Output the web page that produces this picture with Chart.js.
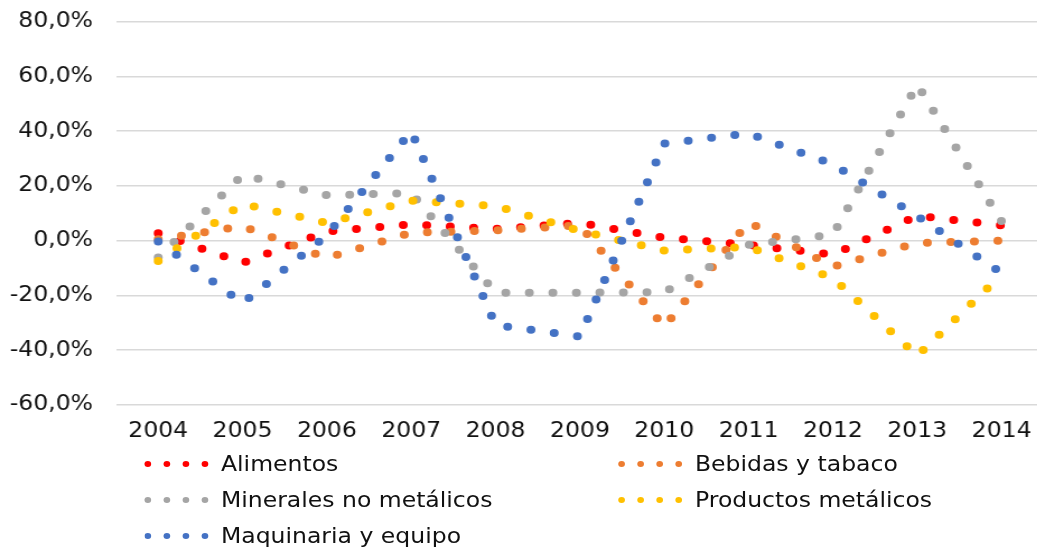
<!DOCTYPE html>
<html><head><meta charset="utf-8">
<script src="https://cdn.jsdelivr.net/npm/chart.js@4.4.1/dist/chart.umd.min.js"></script>
<style>
html,body{margin:0;padding:0;background:#fff;overflow:hidden;width:1037px;height:548px}
#wrap{position:absolute;left:0;top:0;width:935px;height:548px;transform:scaleX(1.12);transform-origin:0 0}
#c{position:absolute;left:0;top:0}
.lgt{position:absolute;font-family:"DejaVu Sans";font-size:21px;line-height:24px;color:#111;white-space:nowrap}
.dot{position:absolute;width:6px;height:6px;border-radius:50%}
</style></head><body>
<div id="wrap"><canvas id="c" width="935" height="548"></canvas><div id="legend"></div></div>
<script>
// Categories (years)
const years = ['2004','2005','2006','2007','2008','2009','2010','2011','2012','2013','2014'];
// Series values (% change)
const alimentos  = [2.7, -8.1, 3.4, 6.0, 4.3, 6.5, 1.1, -1.5, -5.1, 9.1, 5.6];
const bebidas    = [0.5, 5.3, -6.3, 2.9, 3.8, 5.6, -31.4, 6.8, -9.5, -0.8, 0.0];
const minerales  = [-6.1, 24.0, 16.6, 17.4, -19.0, -19.0, -18.8, -1.5, 2.2, 57.0, 7.0];
const productos  = [-7.4, 13.4, 6.5, 14.6, 12.7, 3.6, -3.6, -2.3, -13.6, -42.0, -12.4];
const maquinaria = [-0.3, -22.8, 2.0, 40.0, -30.8, -35.0, 35.5, 39.2, 27.9, 9.0, -11.8];
// Series names and colours
const seriesNames = ['Alimentos','Bebidas y tabaco','Minerales no metálicos','Productos metálicos','Maquinaria y equipo'];
const seriesData = [alimentos, bebidas, minerales, productos, maquinaria];
const seriesColors = ['#FF0000','#ED7D31','#A5A5A5','#FFC000','#4472C4'];
// Y ticks
const yMin = -60, yMax = 80, yStep = 20;

const FONT = {family:'"DejaVu Sans"', size:21};

const datasets = seriesNames.map((name,i)=>({
  label: name,
  data: seriesData[i],
  borderColor: seriesColors[i],
  backgroundColor: seriesColors[i],
  borderWidth: 8,
  borderDash: [0, 21],
  borderCapStyle: 'round',
  borderJoinStyle: 'round',
  pointRadius: 0,
  pointHoverRadius: 0,
  tension: 0,
  fill: false,
  order: seriesNames.length - 1 - i
}));

new Chart(document.getElementById('c'), {
  type: 'line',
  data: {labels: years, datasets},
  options: {
    responsive: false,
    animation: false,
    devicePixelRatio: 1,
    layout: {padding: {top: 21.7, left: 0, right: 0, bottom: 103}},
    plugins: {legend: {display: false}, tooltip: {enabled: false}},
    scales: {
      x: {
        type: 'category',
        offset: true,
        grid: {display: false, drawTicks: false},
        border: {display: false},
        ticks: {font: FONT, color: '#111', padding: 14, maxRotation: 0, autoSkip: false},
        afterFit(s){ s.height = 40; }
      },
      y: {
        min: yMin, max: yMax,
        grid: {color: '#D9D9D9', lineWidth: 1.5, drawTicks: true, tickLength: 18, tickColor: 'rgba(0,0,0,0)'},
        border: {display: false},
        ticks: {
          stepSize: yStep, font: FONT, color: '#111', padding: 2.6,
          callback: v => v.toFixed(1).replace('.', ',') + '%'
        },
        afterFit(s){ s.width = 103.6; }
      }
    }
  }
});

// Legend (two columns, Excel style)
const legend = document.getElementById('legend');
const colX = [[132.4, 197.3], [555.4, 620.5]];
const rowBase = [471.7, 507.3, 543.3];
seriesNames.forEach((name,i)=>{
  const col = i % 2, row = Math.floor(i / 2);
  const [dx, tx] = colX[col];
  const cy = rowBase[row] - 7.5;
  for (let k = 0; k < 4; k++) {
    const d = document.createElement('div');
    d.className = 'dot';
    d.style.background = seriesColors[i];
    d.style.left = (dx + k * 16.9 - 3) + 'px';
    d.style.top = (cy - 3) + 'px';
    legend.appendChild(d);
  }
  const t = document.createElement('div');
  t.className = 'lgt';
  t.textContent = name;
  t.style.left = tx + 'px';
  t.style.top = (rowBase[row] - 19.3) + 'px';
  legend.appendChild(t);
});
</script>
</body></html>
